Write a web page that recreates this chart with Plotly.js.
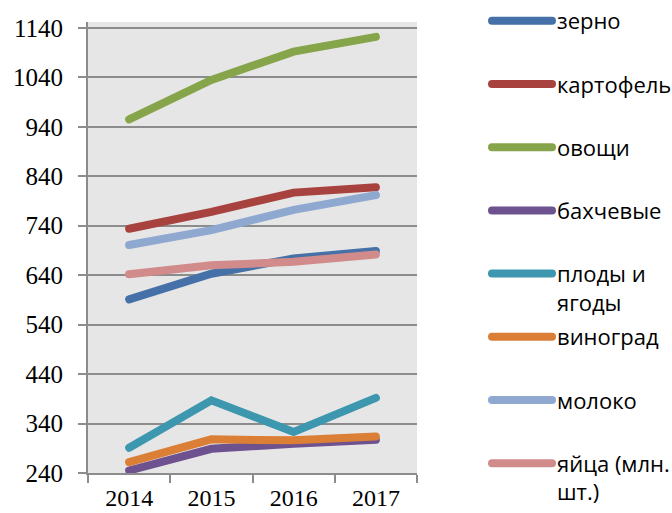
<!DOCTYPE html>
<html>
<head>
<meta charset="utf-8">
<script src="https://cdn.plot.ly/plotly-3.0.1.min.js"></script>
<style>
html, body { margin: 0; padding: 0; background: #fff; }
#chart { width: 672px; height: 513px; }
.scatterlayer path.js-line, .legend path.js-line { stroke-linecap: round !important; }
</style>
</head>
<body>
<div id="chart"></div>
<script>
const years = ['2014', '2015', '2016', '2017'];
const seriesNames = ['зерно', 'картофель', 'овощи', 'бахчевые', 'плоды и<br>ягоды', 'виноград', 'молоко', 'яйца (млн.<br>шт.)'];
const zerno = [591, 643, 674, 689];
const kartofel = [734, 768, 807, 818];
const ovoschi = [955, 1035, 1092, 1122];
const bakhchevye = [245, 289, 299, 307];
const plody = [291, 387, 323, 392];
const vinograd = [262, 308, 306, 314];
const moloko = [701, 731, 772, 802];
const yaitsa = [642, 660, 667, 682];
const seriesValues = [zerno, kartofel, ovoschi, bakhchevye, plody, vinograd, moloko, yaitsa];
const colors = ['#4570A8', '#A8423F', '#86A44A', '#6E528F', '#3D97AF', '#DB7F36', '#8EA8D0', '#D08B8A'];
const yTicks = [240, 340, 440, 540, 640, 740, 840, 940, 1040, 1140];

const serif = '"Liberation Serif", "Times New Roman", "DejaVu Serif", serif';

const traces = seriesValues.map((vals, i) => {
  const nm = seriesNames[i];
  const label = nm.indexOf('<br>') >= 0 ? nm : nm + '<br>&nbsp;';
  return {
    x: years,
    y: vals,
    name: label,
    legendgroup: 'g' + i,
    type: 'scatter',
    mode: 'lines',
    line: { color: colors[i], width: 8 },
    hoverinfo: 'skip'
  };
});

const layout = {
  width: 672,
  height: 513,
  margin: { l: 88, r: 255, t: 22, b: 40 },
  paper_bgcolor: '#ffffff',
  plot_bgcolor: '#E6E6E6',
  showlegend: true,
  legend: {
    xref: 'container', yref: 'container',
    x: 0.7247, xanchor: 'left',
    y: 1, yanchor: 'top',
    font: { family: 'Open Sans', size: 22, color: '#000' },
    itemwidth: 60,
    valign: 'top',
    tracegroupgap: 3,
    maxheight: 1,
    bgcolor: 'rgba(0,0,0,0)'
  },
  xaxis: {
    type: 'category',
    range: [-0.5, 3.5],
    tickson: 'boundaries',
    ticks: 'outside',
    ticklen: 8,
    tickwidth: 2,
    tickcolor: '#8C8C8C',
    showline: true,
    linecolor: '#8C8C8C',
    linewidth: 2,
    showgrid: false,
    zeroline: false,
    ticklabelstandoff: 2,
    tickfont: { family: serif, size: 24, color: '#000' }
  },
  yaxis: {
    range: [240, 1152],
    tickvals: yTicks,
    ticktext: yTicks.map(String),
    ticks: 'outside',
    ticklen: 8,
    tickwidth: 2,
    tickcolor: '#8C8C8C',
    showline: true,
    linecolor: '#8C8C8C',
    linewidth: 2,
    showgrid: true,
    gridcolor: '#8C8C8C',
    gridwidth: 2,
    zeroline: false,
    ticklabelstandoff: 10,
    tickfont: { family: serif, size: 25, color: '#000' }
  }
};

Plotly.newPlot('chart', traces, layout, { displayModeBar: false, staticPlot: true });
</script>
</body>
</html>
